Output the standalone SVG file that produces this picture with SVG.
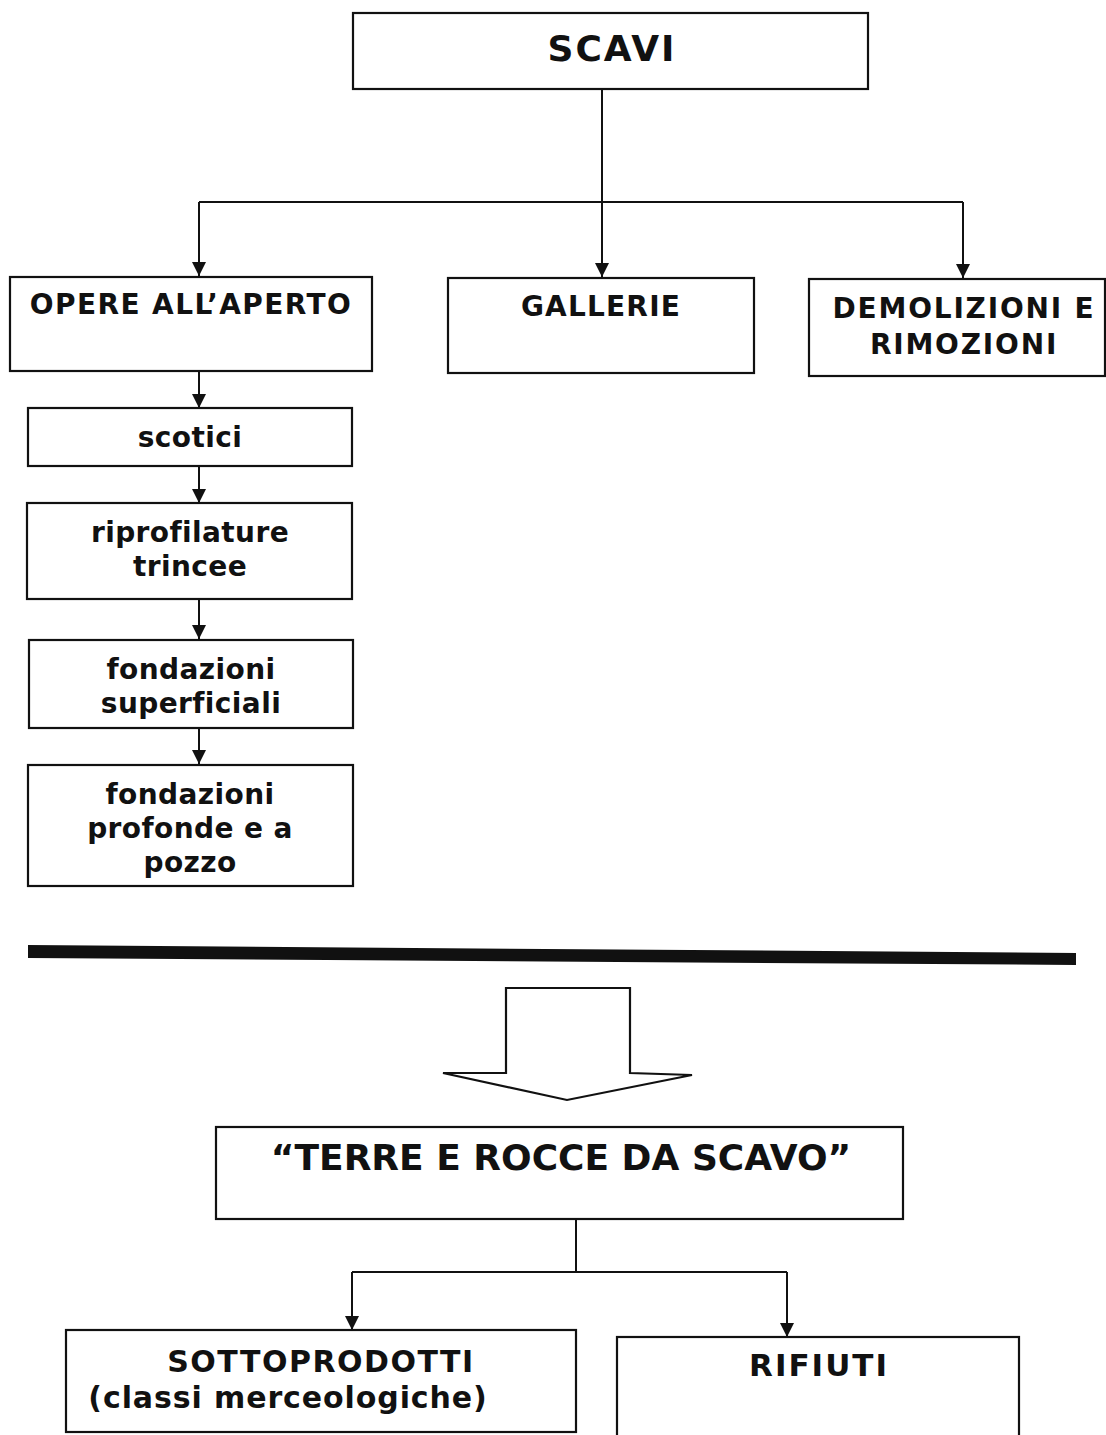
<svg xmlns="http://www.w3.org/2000/svg" width="1106" height="1435" viewBox="0 0 1106 1435">
<style>
.box{fill:#fff;stroke:#111;stroke-width:2.2}
.t{font-family:"DejaVu Sans",Verdana,sans-serif;font-weight:bold;fill:#111;text-anchor:middle}
.c{fill:none;stroke:#111;stroke-width:2}
</style>
<defs>
<marker id="ah" viewBox="0 0 10 10" refX="10" refY="5" markerWidth="14" markerHeight="14" markerUnits="userSpaceOnUse" orient="auto">
<path d="M0,0 L10,5 L0,10 z" fill="#111"/>
</marker>
</defs>
<rect width="1106" height="1435" fill="#fff"/>
<g id="connectors">
<path class="c" d="M602,89 V277" marker-end="url(#ah)"/>
<path class="c" d="M199,202 H963"/>
<path class="c" d="M199,202 V276" marker-end="url(#ah)"/>
<path class="c" d="M963,202 V278" marker-end="url(#ah)"/>
<path class="c" d="M199,371 V408" marker-end="url(#ah)"/>
<path class="c" d="M199,466 V503" marker-end="url(#ah)"/>
<path class="c" d="M199,599 V639" marker-end="url(#ah)"/>
<path class="c" d="M199,728 V764" marker-end="url(#ah)"/>
<path class="c" d="M576,1219 V1272 M352,1272 H787"/>
<path class="c" d="M352,1272 V1330" marker-end="url(#ah)"/>
<path class="c" d="M787,1272 V1337" marker-end="url(#ah)"/>
</g>
<g id="divider">
<polygon points="28,945 1076,953 1076,965 28,958" fill="#111"/>
</g>
<g id="big-arrow">
<polygon points="506,988 630,988 630,1073 692,1075 567,1100 443,1073 506,1073" fill="#fff" stroke="#111" stroke-width="2.2" stroke-linejoin="miter"/>
</g>
<g id="scavi">
<rect class="box" x="353" y="13" width="515" height="76"/>
<text class="t" x="612" y="61" font-size="36" letter-spacing="2">SCAVI</text>
</g>
<g id="opere">
<rect class="box" x="10" y="277" width="362" height="94"/>
<text class="t" x="191" y="314" font-size="28" letter-spacing="1.4">OPERE ALL’APERTO</text>
</g>
<g id="gallerie">
<rect class="box" x="448" y="278" width="306" height="95"/>
<text class="t" x="601" y="316" font-size="28" letter-spacing="1.2">GALLERIE</text>
</g>
<g id="demolizioni">
<rect class="box" x="809" y="279" width="296" height="97"/>
<text class="t" x="964" y="318" font-size="28" letter-spacing="1.8">DEMOLIZIONI E</text>
<text class="t" x="964" y="354" font-size="28" letter-spacing="1.8">RIMOZIONI</text>
</g>
<g id="scotici">
<rect class="box" x="28" y="408" width="324" height="58"/>
<text class="t" x="190" y="447" font-size="28" letter-spacing="0.4">scotici</text>
</g>
<g id="riprofilature">
<rect class="box" x="27" y="503" width="325" height="96"/>
<text class="t" x="190" y="542" font-size="28" letter-spacing="0.4">riprofilature</text>
<text class="t" x="190" y="576" font-size="28" letter-spacing="0.4">trincee</text>
</g>
<g id="fondazioni-superficiali">
<rect class="box" x="29" y="640" width="324" height="88"/>
<text class="t" x="191" y="679" font-size="28" letter-spacing="0.4">fondazioni</text>
<text class="t" x="191" y="713" font-size="28" letter-spacing="0.4">superficiali</text>
</g>
<g id="fondazioni-profonde">
<rect class="box" x="28" y="765" width="325" height="121"/>
<text class="t" x="190" y="804" font-size="28" letter-spacing="0.4">fondazioni</text>
<text class="t" x="190" y="838" font-size="28" letter-spacing="0.4">profonde e a</text>
<text class="t" x="190" y="872" font-size="28" letter-spacing="0.4">pozzo</text>
</g>
<g id="terre">
<rect class="box" x="216" y="1127" width="687" height="92"/>
<text class="t" x="561" y="1170" font-size="36">“TERRE E ROCCE DA SCAVO”</text>
</g>
<g id="sottoprodotti">
<rect class="box" x="66" y="1330" width="510" height="102"/>
<text class="t" x="321" y="1372" font-size="30" letter-spacing="1.5">SOTTOPRODOTTI</text>
<text class="t" x="288" y="1408" font-size="30" letter-spacing="0.9">(classi merceologiche)</text>
</g>
<g id="rifiuti">
<rect class="box" x="617" y="1337" width="402" height="110"/>
<text class="t" x="819" y="1376" font-size="31" letter-spacing="2">RIFIUTI</text>
</g>
</svg>
